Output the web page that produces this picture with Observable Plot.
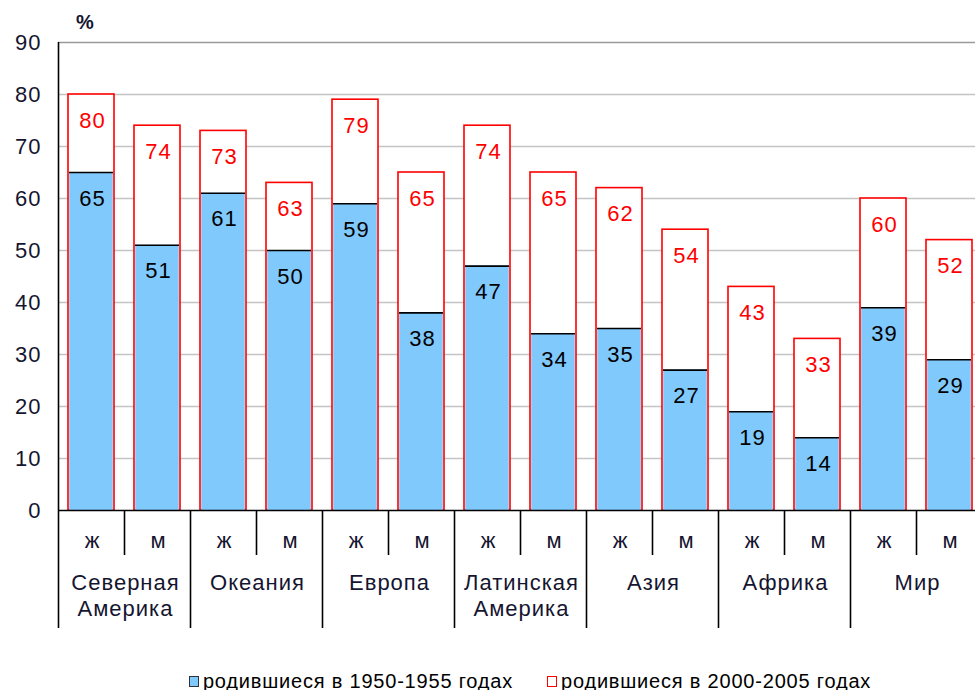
<!DOCTYPE html>
<html>
<head>
<meta charset="utf-8">
<script src="https://cdn.jsdelivr.net/npm/d3@7"></script>
<script src="https://cdn.jsdelivr.net/npm/@observablehq/plot@0.6"></script>
<style>
  body { margin: 0; background: #fff; font-family: "Liberation Sans", Arial, sans-serif; }
  #legend { display: flex; justify-content: center; gap: 34px; font-size: 20px; letter-spacing: 0.8px; color: #000; height: 52px; align-items: center; padding-left: 85px; }
  #legend span.item { display: flex; align-items: center; gap: 4px; }
  #legend i { display: inline-block; width: 8px; height: 9px; }
  svg text { letter-spacing: 1px; }
</style>
</head>
<body>
<div id="chart"></div>
<div id="legend"></div>
<script>
const regions = ["Северная\nАмерика", "Океания", "Европа", "Латинская\nАмерика", "Азия", "Африка", "Мир"];
const sexes = ["ж", "м"];
const female1950 = [65, 61, 59, 47, 35, 19, 39];
const male1950   = [51, 50, 38, 34, 27, 14, 29];
const female2000 = [80, 73, 79, 74, 62, 43, 60];
const male2000   = [74, 63, 65, 65, 54, 33, 52];
const yTicks = [0, 10, 20, 30, 40, 50, 60, 70, 80, 90];
const seriesNames = ["родившиеся в 1950-1955 годах", "родившиеся в 2000-2005 годах"];

const data = [];
regions.forEach((r, i) => {
  data.push({key: r + "|ж", region: r, sex: "ж", v1950: female1950[i], v2000: female2000[i]});
  data.push({key: r + "|м", region: r, sex: "м", v1950: male1950[i], v2000: male2000[i]});
});
const keys = data.map(d => d.key);
const zhKeys = data.filter(d => d.sex === "ж").map(d => d.key);
const mKeys = data.filter(d => d.sex === "м").map(d => d.key);

const W = 975, H = 655;
const mLeft = 58, mTop = 42, mBottom = 145, mRight = -7;
const step = (W - mRight - mLeft) / keys.length;
const blue = "#80c9fd";

const chart = Plot.plot({
  width: W, height: H,
  marginLeft: mLeft, marginTop: mTop, marginBottom: mBottom, marginRight: mRight,
  style: {fontFamily: "'Liberation Sans', Arial, sans-serif", fontSize: "22px", color: "#111"},
  x: {domain: keys, paddingInner: 0.3, paddingOuter: 0.15, axis: null},
  y: {domain: [0, 90], axis: null},
  marks: [
    Plot.gridY(yTicks.filter(t => t > 0 && t < 90), {stroke: "#c4c4c4", strokeOpacity: 1, strokeWidth: 1.5}),
    Plot.gridY([90], {stroke: "#9a9a9a", strokeOpacity: 1, strokeWidth: 1.5}),
    Plot.axisY(yTicks, {tickSize: 0, tickPadding: 17, fontSize: 22, label: null, fill: "#151530"}),
    Plot.barY(data, {x: "key", y: "v2000", fill: "white", stroke: "#ff0000", strokeWidth: 1.6}),
    Plot.barY(data, {x: "key", y: "v1950", fill: blue, insetLeft: 1.2, insetRight: 1.2}),
    Plot.tickY(data, {x: "key", y: "v1950", stroke: "#000", strokeWidth: 1.6, inset: 1}),
    Plot.text(data, {x: "key", y: "v2000", text: d => String(d.v2000), dy: 26, dx: 1, fill: "#ff0000", fontSize: 22}),
    Plot.text(data, {x: "key", y: "v1950", text: d => String(d.v1950), dy: 26, dx: 1, fill: "#000", fontSize: 22}),
    Plot.ruleY([0], {stroke: "#000", strokeWidth: 1.6}),
    Plot.ruleX([keys[0]], {y1: 0, y2: 90, dx: -step / 2, stroke: "#000", strokeWidth: 1.6}),
    Plot.axisX(mKeys, {tickSize: 45, tickFormat: () => "", dx: -step / 2, stroke: "#000", strokeWidth: 1.6, label: null}),
    Plot.axisX(zhKeys, {tickSize: 118, tickFormat: () => "", dx: -step / 2, stroke: "#000", strokeWidth: 1.6, label: null}),
    Plot.text(data, {x: "key", text: "sex", frameAnchor: "bottom", dy: 30, dx: 1, lineAnchor: "middle", fontSize: 22, fill: "#151530"}),
    Plot.text(data.filter(d => d.sex === "ж"), {x: "key", text: "region", frameAnchor: "bottom", dx: step / 2 + 1, dy: 60, lineAnchor: "top", lineHeight: 1.22, fontSize: 22, fill: "#151530"}),
    Plot.text(["%"], {frameAnchor: "top-left", textAnchor: "middle", lineAnchor: "middle", dx: 27, dy: -20, fontSize: 20, fontWeight: "bold", fill: "#151530"})
  ]
});
document.getElementById("chart").appendChild(chart);

const legend = document.getElementById("legend");
const swatches = [
  {fill: blue, stroke: "#333"},
  {fill: "#fff", stroke: "#ff0000"}
];
seriesNames.forEach((name, i) => {
  const s = document.createElement("span");
  s.className = "item";
  const sw = document.createElement("i");
  sw.style.background = swatches[i].fill;
  sw.style.border = "1.5px solid " + swatches[i].stroke;
  s.appendChild(sw);
  s.appendChild(document.createTextNode(name));
  legend.appendChild(s);
});
</script>
</body>
</html>
